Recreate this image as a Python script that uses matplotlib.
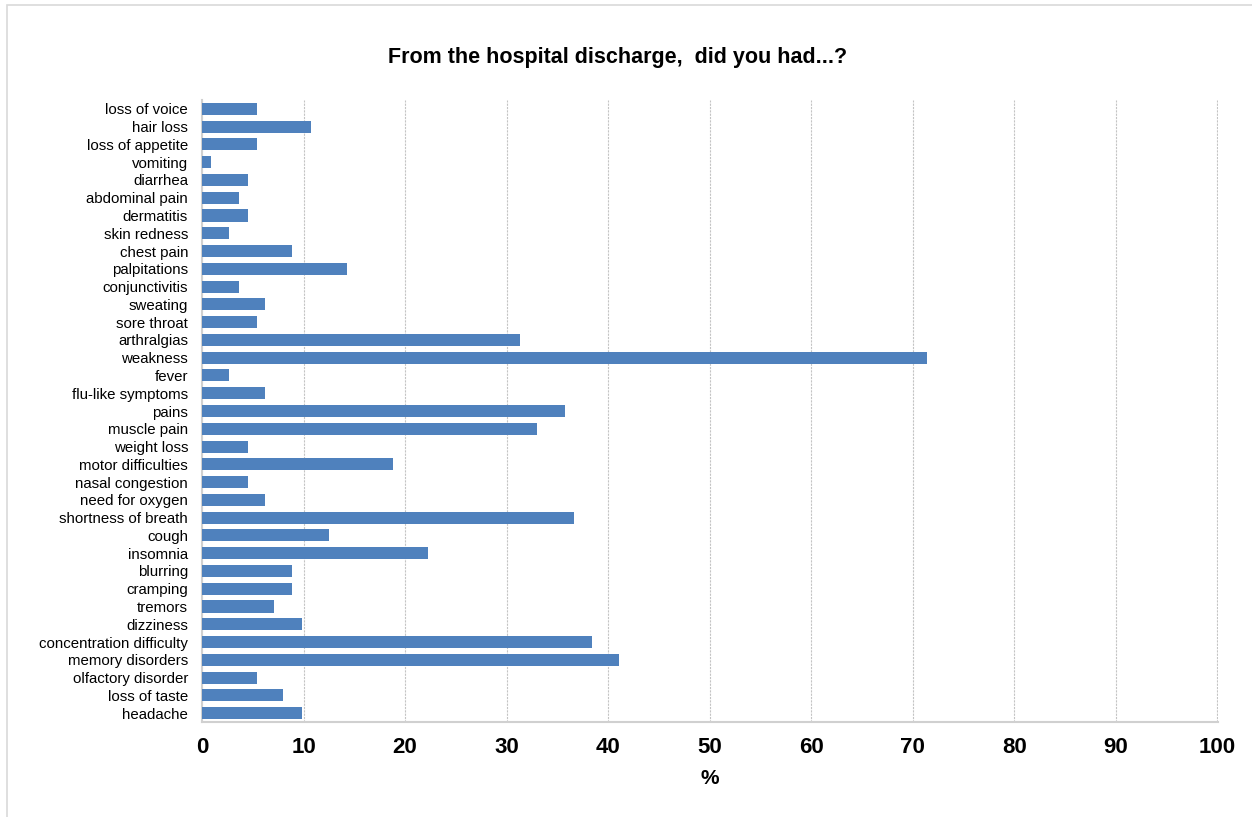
import numpy as np
import matplotlib.pyplot as plt
from matplotlib.patches import Rectangle

plt.rcParams['font.family'] = ['Liberation Sans', 'DejaVu Sans']

# symptoms listed bottom to top
symptoms = ['headache', 'loss of taste', 'olfactory disorder', 'memory disorders',
            'concentration difficulty', 'dizziness', 'tremors', 'cramping', 'blurring',
            'insomnia', 'cough', 'shortness of breath', 'need for oxygen',
            'nasal congestion', 'motor difficulties', 'weight loss', 'muscle pain',
            'pains', 'flu-like symptoms', 'fever', 'weakness', 'arthralgias',
            'sore throat', 'sweating', 'conjunctivitis', 'palpitations', 'chest pain',
            'skin redness', 'dermatitis', 'abdominal pain', 'diarrhea', 'vomiting',
            'loss of appetite', 'hair loss', 'loss of voice']
percent = [9.8, 8.0, 5.4, 41.1, 38.4, 9.8, 7.1, 8.9, 8.9, 22.3, 12.5, 36.6, 6.2,
           4.5, 18.8, 4.5, 33.0, 35.7, 6.2, 2.7, 71.4, 31.3, 5.4, 6.2, 3.6, 14.3,
           8.9, 2.7, 4.5, 3.6, 4.5, 0.9, 5.4, 10.7, 5.4]
xticks = list(range(0, 101, 10))

fig = plt.figure(figsize=(12.52, 8.17), dpi=100)
fig.patches.append(Rectangle((7 / 1252, -0.01), 1.02, 1 - 5 / 817 + 0.01,
                             transform=fig.transFigure, fill=False,
                             edgecolor='#d9d9d9', linewidth=1.2))
ax = fig.add_axes([202 / 1252, 1 - 722 / 817, 1016 / 1252, 622 / 817])

y = np.arange(len(symptoms))
ax.barh(y, percent, height=0.68, color='#4f81bd', zorder=3)

ax.set_xlim(0, 100.05)
ax.set_ylim(-0.5, len(symptoms) - 0.5)
ax.set_xticks(xticks)
ax.set_xticklabels([str(t) for t in xticks], fontsize=16, fontweight='bold')
ax.set_yticks(y)
ax.set_yticklabels(symptoms, fontsize=10.8)
ax.tick_params(axis='both', length=0)
ax.tick_params(axis='x', pad=11)
ax.tick_params(axis='y', pad=10)

ax.grid(axis='x', color='#c4c4c4', linestyle=(0, (2, 1)), linewidth=0.8, zorder=0)
for side in ['top', 'right']:
    ax.spines[side].set_visible(False)
for side in ['left', 'bottom']:
    ax.spines[side].set_color('#d0d0d0')
    ax.spines[side].set_linewidth(1.5)

ax.set_xlabel('%', fontsize=15, fontweight='bold', labelpad=8)
fig.text(618 / 1252, 1 - 57 / 817, 'From the hospital discharge,  did you had...?',
         ha='center', va='center', fontsize=15.5, fontweight='bold')

plt.savefig('out.png', dpi=100)
